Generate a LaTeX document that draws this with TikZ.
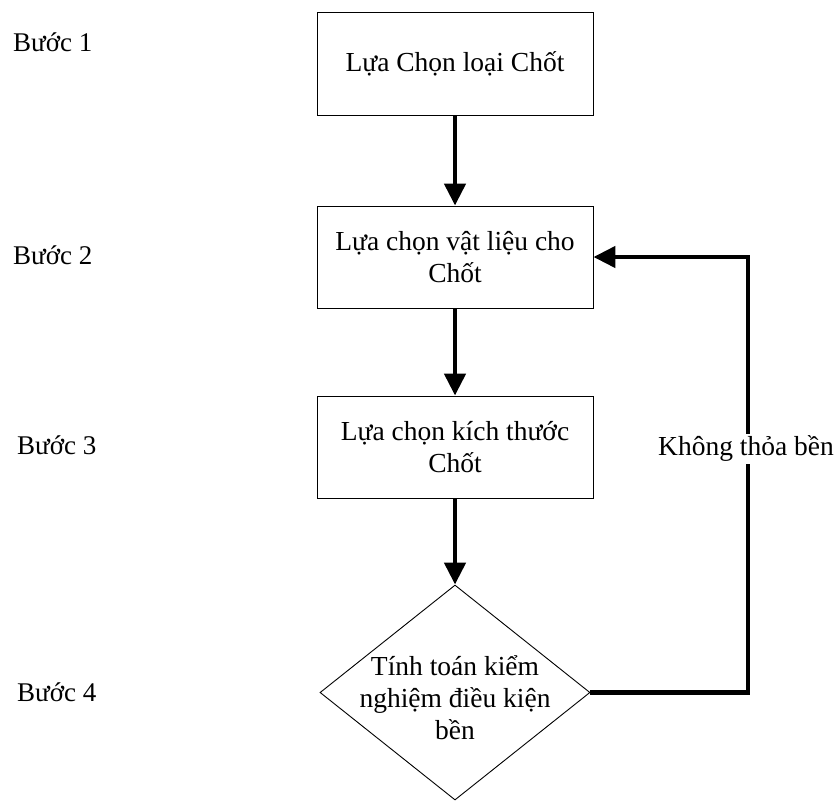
\documentclass[tikz,border=0pt]{standalone}
\usepackage{fontspec}
\setmainfont{Liberation Serif}
\usetikzlibrary{arrows.meta,shapes.geometric,calc}

\tikzset{
  stepbox/.style={draw=black, line width=0.9pt, rectangle, minimum width=276pt,
    inner sep=0pt, align=center, font=\fontsize{27.5}{32.5}\selectfont},
  checkshape/.style={draw=black, line width=0.9pt, diamond, minimum width=270pt,
    minimum height=215pt, inner sep=0pt},
  bodytext/.style={align=center, inner sep=0pt, font=\fontsize{27.5}{32}\selectfont},
  steplabel/.style={anchor=base west, inner sep=0pt, font=\fontsize{27}{32}\selectfont},
  flow/.style={line width=4.6pt, -{Triangle[length=22pt,width=21pt]}, line join=miter}
}

\begin{document}
\begin{tikzpicture}[x=1pt, y=-1pt]
  \useasboundingbox[fill=white] (0,0) rectangle (837,800);

  % process boxes
  \node[stepbox, minimum height=103pt] (b1) at (455,63.5) {Lựa Chọn loại Chốt};
  \node[stepbox, minimum height=102pt] (b2) at (455,257) {Lựa chọn vật liệu cho\\Chốt};
  \node[stepbox, minimum height=102pt] (b3) at (455,447) {Lựa chọn kích thước\\Chốt};

  % decision
  \node[checkshape] (d) at (455,692.5) {};
  \node[bodytext] (dt) at (455,698) {Tính toán kiểm\\nghiệm điều kiện\\bền};

  % step labels
  \node[steplabel] (s1) at (13,52) {Bước 1};
  \node[steplabel] (s2) at (13,264) {Bước 2};
  \node[steplabel] (s3) at (17,454) {Bước 3};
  \node[steplabel] (s4) at (17,701) {Bước 4};

  % main flow
  \draw[flow] (b1.south) -- (b2.north);
  \draw[flow] (b2.south) -- (b3.north);
  \draw[flow] (b3.south) -- (d.north);

  % feedback loop
  \coordinate (loopc) at (748,692.5);
  \draw[flow] (d.east) -- (loopc) |- (b2.east);
  \node[bodytext, fill=white, inner sep=2pt, anchor=east] (fail) at (836,449) {Không thỏa bền};
\end{tikzpicture}
\end{document}
